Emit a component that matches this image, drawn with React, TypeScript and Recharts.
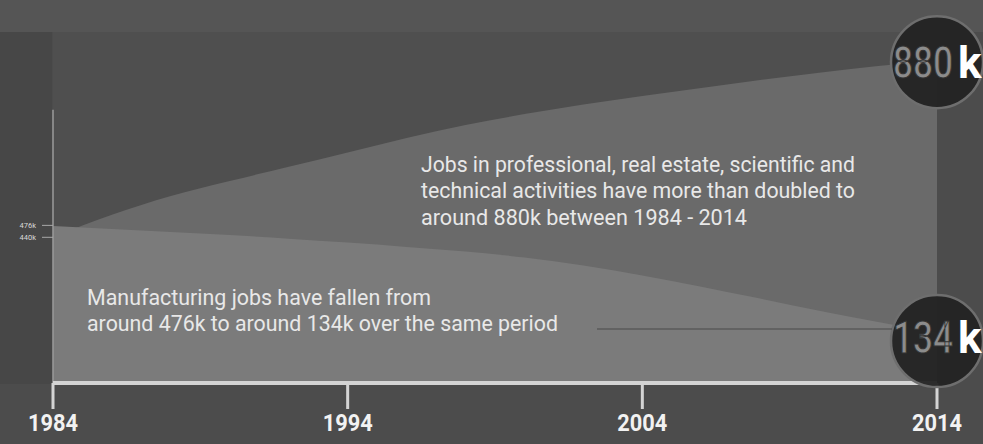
import React from "react";
import {
    ComposedChart,
    Area,
    XAxis,
    YAxis,
    ReferenceArea,
    ReferenceLine,
    ReferenceDot,
} from "recharts";

// values, in thousands of jobs
const years = [1984, 1986, 1988, 1990, 1992, 1994, 1996, 1998, 2000, 2002, 2004, 2006, 2008, 2010, 2012, 2014];
const professional = [441, 508, 565, 610, 653, 696, 740, 779, 812, 841, 867, 891, 915, 937, 957, 975];
const manufacturing = [474, 465, 456, 447, 436, 424, 411, 397, 379, 355, 325, 291, 255, 218, 184, 151];
const yearTicks = [1984, 1994, 2004, 2014];
const startTicks = [440, 476];

const proNote = [
    "Jobs in professional, real estate, scientific and",
    "technical activities have more than doubled to",
    "around 880k between 1984 - 2014",
];
const mfgNote = [
    "Manufacturing jobs have fallen from",
    "around 476k to around 134k over the same period",
];

const data = years.map((year, i) => ({
    year,
    professional: professional[i],
    manufacturing: manufacturing[i],
}));

const FONT = "Roboto, 'Noto Sans', sans-serif";

const COLORS = {
    page: "#4c4c4c",
    band: "#555555",
    strip: "#474747",
    plot: "#4f4f4f",
    pro: "#6a6a6a",
    mfg: "#7b7b7b",
    axis: "#d4d4d4",
    text: "#e8e8e8",
};

function YearTick(props: any) {
    const { x, y, payload } = props;
    return (
        <text
            x={x}
            y={y}
            dy={20}
            textAnchor="middle"
            fill="#f2f2f2"
            fontFamily={FONT}
            fontWeight={700}
            fontSize={24}
            textLength={50}
            lengthAdjust="spacingAndGlyphs"
        >
            {payload.value}
        </text>
    );
}

function StartTick(props: any) {
    const { x, y, payload } = props;
    return (
        <g>
            <line x1={x - 3} x2={x + 8} y1={y} y2={y} stroke="#a8a8a8" strokeWidth={1} />
            <text
                x={x - 9}
                y={y}
                dy={2.5}
                textAnchor="end"
                fill="#d8d8d8"
                fontFamily={FONT}
                fontSize={7.5}
            >
                {payload.value}k
            </text>
        </g>
    );
}

function EndBadge(props: any) {
    const { cx, cy, label, shift, base } = props;
    const y = cy + shift;
    return (
        <g>
            <circle cx={cx} cy={y} r={46} fill="#232323" fillOpacity={0.95} stroke="#6e6e6e" strokeWidth={2.5} />
            <text
                transform={`translate(${cx - 44},${y + base}) scale(0.8,1)`}
                fill="#8c8c8c"
                stroke="#333333"
                strokeWidth={1}
                fontFamily={FONT}
                fontWeight={500}
                fontSize={44}
            >
                {label}
            </text>
            <text
                x={cx + 21}
                y={y + base}
                fill="#ffffff"
                fontFamily={FONT}
                fontWeight={700}
                fontSize={44}
            >
                k
            </text>
        </g>
    );
}

export default function App() {
    const last = years.length - 1;
    return (
        <div
            style={{
                position: "absolute",
                left: 0,
                top: 0,
                width: 983,
                height: 444,
                background: COLORS.page,
                overflow: "hidden",
            }}
        >
            <div style={{ position: "absolute", left: 0, top: 0, width: 983, height: 32, background: COLORS.band }} />
            <div style={{ position: "absolute", left: 0, top: 32, width: 52, height: 352, background: COLORS.strip }} />

            <div style={{ position: "absolute", left: 0, top: 0 }}>
                <ComposedChart
                    width={983}
                    height={444}
                    data={data}
                    margin={{ top: 32, right: 46, bottom: 0, left: 0 }}
                >
                    <XAxis
                        dataKey="year"
                        type="number"
                        domain={[1984, 2014]}
                        ticks={yearTicks}
                        interval={0}
                        height={61}
                        axisLine={{ stroke: COLORS.axis, strokeWidth: 4 }}
                        tickLine={{ stroke: COLORS.axis, strokeWidth: 3 }}
                        tickSize={26}
                        tick={<YearTick />}
                    />
                    <YAxis
                        type="number"
                        width={53}
                        domain={[0, 1060]}
                        ticks={startTicks}
                        interval={0}
                        axisLine={false}
                        tickLine={false}
                        tick={<StartTick />}
                    />
                    <ReferenceArea x1={1984} x2={2014} y1={0} y2={1060} fill={COLORS.plot} fillOpacity={1} stroke="none" />
                    <Area
                        type="monotone"
                        dataKey="professional"
                        stroke="none"
                        fill={COLORS.pro}
                        fillOpacity={1}
                        dot={false}
                        activeDot={false}
                        isAnimationActive={false}
                    />
                    <Area
                        type="monotone"
                        dataKey="manufacturing"
                        stroke="none"
                        fill={COLORS.mfg}
                        fillOpacity={1}
                        dot={false}
                        activeDot={false}
                        isAnimationActive={false}
                    />
                    <ReferenceLine
                        segment={[
                            { x: 1984, y: 0 },
                            { x: 1984, y: 825 },
                        ]}
                        stroke="#9a9a9a"
                        strokeWidth={1.5}
                    />
                    <ReferenceDot
                        x={2014}
                        y={professional[last]}
                        r={46}
                        shape={(p: any) => <EndBadge {...p} label="880" shift={2} base={16} />}
                    />
                    <ReferenceDot
                        x={2014}
                        y={manufacturing[last]}
                        r={46}
                        shape={(p: any) => <EndBadge {...p} label="134" shift={8} base={12} />}
                    />
                </ComposedChart>
            </div>

            <svg
                width={983}
                height={444}
                style={{ position: "absolute", left: 0, top: 0, pointerEvents: "none" }}
            >
                <line x1={597} x2={892} y1={329} y2={329} stroke="#4a4a4a" strokeWidth={1.2} />
                {proNote.map((line, i) => (
                    <text
                        key={line}
                        x={421}
                        y={171.5 + i * 26.7}
                        fill={COLORS.text}
                        fontFamily={FONT}
                        fontWeight={400}
                        fontSize={22}
                        textLength={[434, 434, 326][i]}
                        lengthAdjust="spacingAndGlyphs"
                    >
                        {line}
                    </text>
                ))}
                {mfgNote.map((line, i) => (
                    <text
                        key={line}
                        x={87}
                        y={304.5 + i * 26.5}
                        fill={COLORS.text}
                        fontFamily={FONT}
                        fontWeight={400}
                        fontSize={22}
                        textLength={[344, 471][i]}
                        lengthAdjust="spacingAndGlyphs"
                    >
                        {line}
                    </text>
                ))}
            </svg>
        </div>
    );
}
